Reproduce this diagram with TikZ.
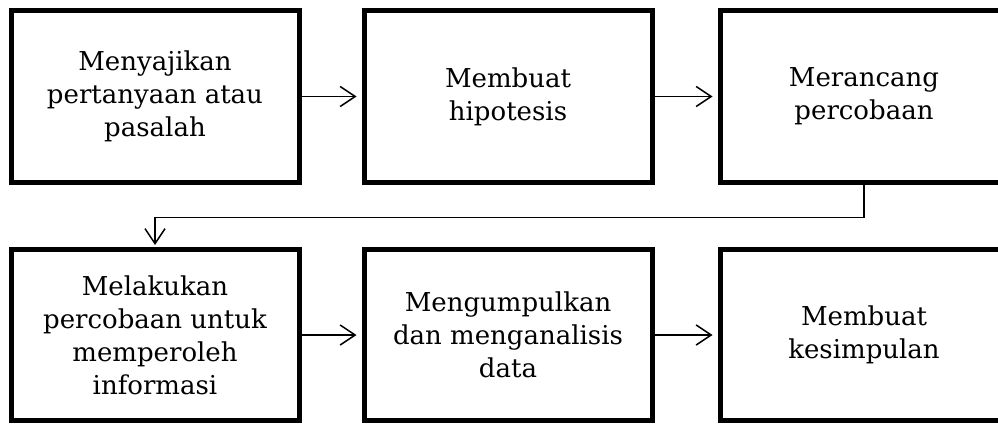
\documentclass[tikz,border=0pt]{standalone}
\usepackage{fontspec}
\setmainfont{DejaVu Serif}
\usetikzlibrary{arrows.meta}

\begin{document}
\begin{tikzpicture}[x=1pt, y=1pt,
        box/.style={draw, line width=5pt, minimum width=288pt, minimum height=171pt,
            align=center, font=\fontsize{26}{33}\selectfont},
        flow/.style={line width=1.5pt, -{Straight Barb[length=15pt, width=20pt, line width=1.5pt]}, shorten >=5pt}]
        \useasboundingbox (0, 0) rectangle (998, 424);
        
        % top row
        \node[box] (masalah) at (155, 327.5) {Menyajikan\\pertanyaan atau\\pasalah};
        \node[box] (hipotesis) at (508, 327.5) {Membuat\\hipotesis};
        \node[box] (rancang) at (864, 327.5) {Merancang\\percobaan};
        
        % bottom row
        \node[box] (percobaan) at (155, 89) {Melakukan\\percobaan untuk\\memperoleh\\informasi};
        \node[box] (analisis) at (508, 89) {Mengumpulkan\\dan menganalisis\\data};
        \node[box] (simpulan) at (864, 89) {Membuat\\kesimpulan};
        
        \draw[flow] (masalah) -- (hipotesis);
        \draw[flow] (hipotesis) -- (rancang);
        \draw[flow, shorten >=2pt] (rancang.south) -- ++(0, -33) -| (percobaan.north);
        \draw[flow] (percobaan) -- (analisis);
        \draw[flow] (analisis) -- (simpulan);
    \end{tikzpicture}
\end{document}
